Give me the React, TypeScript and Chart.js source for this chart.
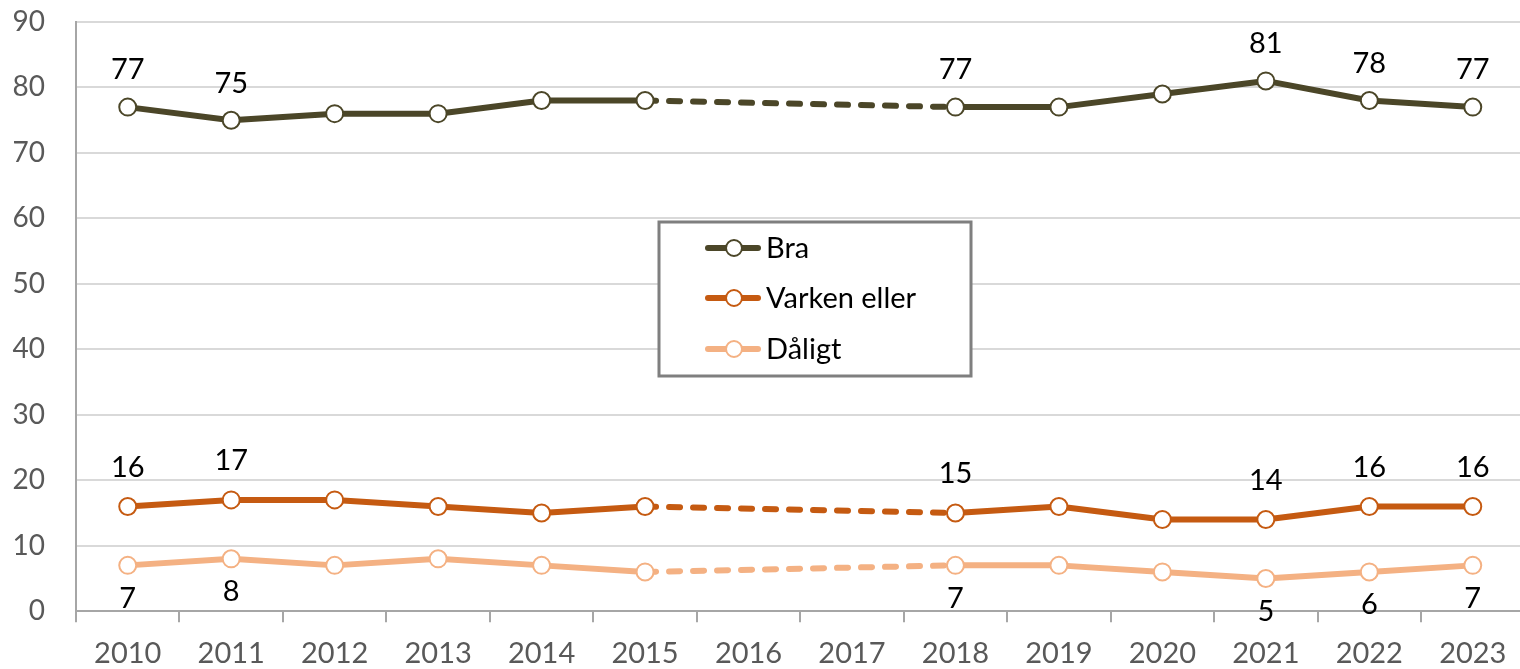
import React, { useEffect, useRef } from "react";
import { Chart, registerables } from "chart.js";

Chart.register(...registerables);

const years = ["2010", "2011", "2012", "2013", "2014", "2015", "2016", "2017", "2018", "2019", "2020", "2021", "2022", "2023"];
const bra = [77, 75, 76, 76, 78, 78, null, null, 77, 77, 79, 81, 78, 77];
const varken = [16, 17, 17, 16, 15, 16, null, null, 15, 16, 14, 14, 16, 16];
const daligt = [7, 8, 7, 8, 7, 6, null, null, 7, 7, 6, 5, 6, 7];
const yTicks = [0, 10, 20, 30, 40, 50, 60, 70, 80, 90];

// which points get a value label
const braLabelIdx = [0, 1, 8, 11, 12, 13];
const varkenLabelIdx = [0, 1, 8, 11, 12, 13];
const daligtLabelIdx = [0, 1, 8, 11, 12, 13];

const seriesNames = ["Bra", "Varken eller", "Dåligt"];
const colors = ["#4b4628", "#c55a11", "#f4b183"];

const FONT = "Lato, 'Open Sans', sans-serif";

const labelPlugin = {
  id: "valueLabels",
  afterDatasetsDraw(chart: any) {
    const ctx = chart.ctx;
    ctx.save();
    ctx.font = `29px ${FONT}`;
    ctx.fillStyle = "#000";
    ctx.textAlign = "center";
    ctx.textBaseline = "middle";
    const conf = [
      { idx: braLabelIdx, dy: -37 },
      { idx: varkenLabelIdx, dy: -39 },
      { idx: daligtLabelIdx, dy: 33 },
    ];
    conf.forEach((c, di) => {
      const meta = chart.getDatasetMeta(di);
      const data = chart.data.datasets[di].data;
      c.idx.forEach((i) => {
        const el = meta.data[i];
        if (!el || data[i] == null) return;
        ctx.fillText(String(data[i]), el.x, el.y + c.dy);
      });
    });
    ctx.restore();
  },
};

const legendPlugin = {
  id: "boxLegend",
  afterDraw(chart: any) {
    const ctx = chart.ctx;
    ctx.save();
    const x0 = 659, y0 = 222, w = 312, h = 154;
    ctx.fillStyle = "#fff";
    ctx.fillRect(x0, y0, w, h);
    ctx.strokeStyle = "#7f7f7f";
    ctx.lineWidth = 3;
    ctx.strokeRect(x0, y0, w, h);
    const rows = [248, 298, 349];
    ctx.font = `29px ${FONT}`;
    ctx.textBaseline = "middle";
    ctx.textAlign = "left";
    rows.forEach((ry, i) => {
      ctx.strokeStyle = colors[i];
      ctx.lineWidth = 6;
      ctx.lineCap = "round";
      ctx.beginPath();
      ctx.moveTo(708, ry);
      ctx.lineTo(758, ry);
      ctx.stroke();
      ctx.beginPath();
      ctx.arc(734, ry, 8, 0, Math.PI * 2);
      ctx.fillStyle = "#fff";
      ctx.fill();
      ctx.lineWidth = 2;
      ctx.stroke();
      ctx.fillStyle = "#000";
      ctx.fillText(seriesNames[i], 766, ry + 1);
    });
    ctx.restore();
  },
};

export default function App() {
  const ref = useRef<HTMLCanvasElement | null>(null);
  useEffect(() => {
    document.documentElement.style.overflow = "hidden";
    document.body.style.overflow = "hidden";
    const mk = (label: string, data: any[], color: string) => ({
      label,
      data,
      borderColor: color,
      backgroundColor: "#fff",
      borderWidth: 6,
      borderCapStyle: "round",
      borderJoinStyle: "round",
      pointRadius: 8.5,
      pointBorderWidth: 2,
      pointBackgroundColor: "#fff",
      pointBorderColor: color,
      spanGaps: true,
      tension: 0,
      segment: {
        borderDash: (c: any) => (c.p0.skip || c.p1.skip ? [11, 13] : undefined),
      },
    });
    const chart = new Chart(ref.current!, {
      type: "line",
      data: {
        labels: years,
        datasets: [mk(seriesNames[0], bra, colors[0]), mk(seriesNames[1], varken, colors[1]), mk(seriesNames[2], daligt, colors[2])],
      },
      options: {
        animation: false,
        responsive: false,
        layout: { padding: { top: 22, right: 6, left: 0, bottom: 0 } },
        plugins: { legend: { display: false }, tooltip: { enabled: false } },
        scales: {
          x: {
            offset: true,
            grid: { display: true, drawOnChartArea: false, drawTicks: true, tickLength: 11, offset: true, color: "#a6a6a6", lineWidth: 2 },
            border: { display: true, color: "#a6a6a6", width: 2 },
            ticks: { color: "#595959", font: { family: FONT, size: 29 }, padding: 14, maxRotation: 0, autoSkip: false },
          },
          y: {
            min: 0,
            max: 90,
            afterBuildTicks: (axis: any) => {
              axis.ticks = yTicks.map((v) => ({ value: v }));
            },
            afterFit: (axis: any) => {
              axis.width = 76;
            },
            grid: { color: "#d9d9d9", lineWidth: 2, drawTicks: true, tickLength: 31, tickColor: "rgba(0,0,0,0)" },
            border: { display: true, color: "#a6a6a6", width: 2 },
            ticks: { color: "#595959", font: { family: FONT, size: 28 }, padding: 0 },
          },
        },
      },
      plugins: [labelPlugin, legendPlugin],
    } as any);
    return () => chart.destroy();
  }, []);
  return (
    <div style={{ position: "absolute", left: 0, top: 0, width: 1520, height: 669, overflow: "hidden" }}>
      <canvas ref={ref} width={1535} height={685} style={{ display: "block" }} />
    </div>
  );
}
